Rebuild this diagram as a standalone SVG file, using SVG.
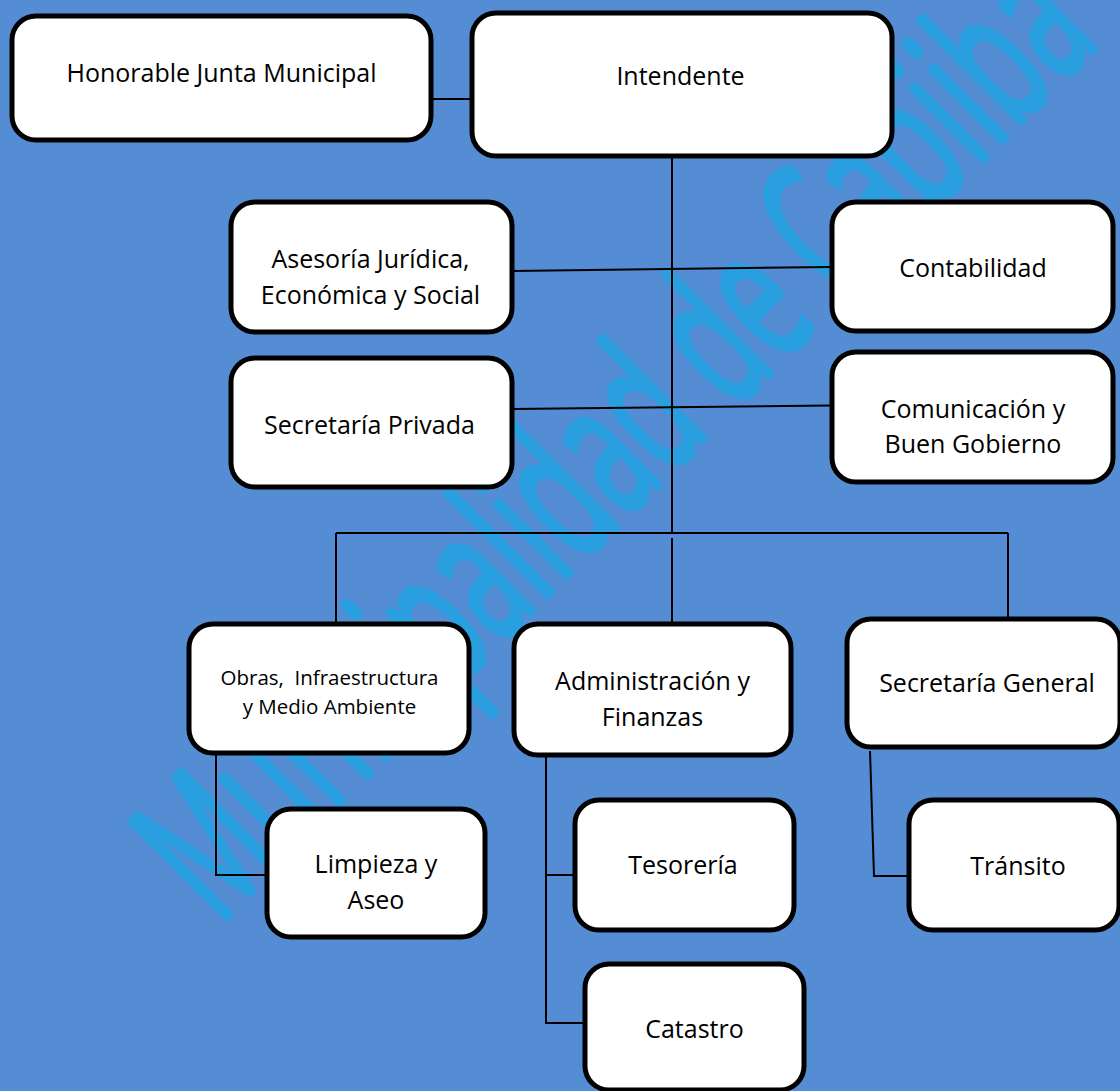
<svg xmlns="http://www.w3.org/2000/svg" width="1120" height="1091" viewBox="0 0 1120 1091">
  <style>
    .box { fill: #ffffff; stroke: #000000; stroke-width: 5; }
    .lbl { font-family: "Open Sans", "Liberation Sans", sans-serif; font-size: 25px; fill: #000000; text-anchor: middle; }
    .sm { font-size: 20.5px; }
    .conn { fill: none; stroke: #000000; stroke-width: 2; }
    .wm { font-family: "Open Sans", "Liberation Sans", sans-serif; font-size: 190px; fill: #2a9fe0; stroke: #2a9fe0; stroke-width: 6; stroke-linejoin: round; }
  </style>
  <rect x="0" y="0" width="1120" height="1091" fill="#548dd4"/>
  <g id="watermark">
    <text class="wm" transform="translate(218,926) rotate(-45)" textLength="1250" lengthAdjust="spacingAndGlyphs">Municipalidad de Capiiba</text>
  </g>
  <g id="connectors">
    <path class="conn" d="M433 99 H470"/>
    <path class="conn" d="M672 158 V533"/>
    <path class="conn" d="M513 271 L831 267"/>
    <path class="conn" d="M513 409 L831 405.5"/>
    <path class="conn" d="M336 533 H1008"/>
    <path class="conn" d="M336 533 V624"/>
    <path class="conn" d="M672 538 V627"/>
    <path class="conn" d="M1008 533 V623"/>
    <path class="conn" d="M216 755 V875 H266"/>
    <path class="conn" d="M546 757 V1023 H584"/>
    <path class="conn" d="M546 875 H574"/>
    <path class="conn" d="M870 751 L874 876 H908"/>
  </g>
  <g id="honorable">
    <rect class="box" x="12" y="16" width="419" height="124" rx="24"/>
    <text class="lbl" x="221.5" y="82">Honorable Junta Municipal</text>
  </g>
  <g id="intendente">
    <rect class="box" x="472" y="13" width="420" height="143" rx="24"/>
    <text class="lbl" x="680.5" y="85">Intendente</text>
  </g>
  <g id="asesoria">
    <rect class="box" x="231" y="202" width="281" height="130" rx="24"/>
    <text class="lbl" x="370.5" y="268">Asesoría Jurídica,</text>
    <text class="lbl" x="370.5" y="304">Económica y Social</text>
  </g>
  <g id="contabilidad">
    <rect class="box" x="832" y="202" width="281" height="129" rx="24"/>
    <text class="lbl" x="973" y="277">Contabilidad</text>
  </g>
  <g id="privada">
    <rect class="box" x="231" y="358" width="281" height="129" rx="24"/>
    <text class="lbl" x="369.5" y="434">Secretaría Privada</text>
  </g>
  <g id="comunicacion">
    <rect class="box" x="832" y="352" width="281" height="130" rx="24"/>
    <text class="lbl" x="973" y="418">Comunicación y</text>
    <text class="lbl" x="973" y="453">Buen Gobierno</text>
  </g>
  <g id="obras">
    <rect class="box" x="189" y="624" width="280" height="129" rx="24"/>
    <text class="lbl sm" x="329.5" y="685" xml:space="preserve">Obras,  Infraestructura</text>
    <text class="lbl sm" x="329.5" y="714">y Medio Ambiente</text>
  </g>
  <g id="administracion">
    <rect class="box" x="514" y="624" width="277" height="131" rx="24"/>
    <text class="lbl" x="652.5" y="690">Administración y</text>
    <text class="lbl" x="652.5" y="726">Finanzas</text>
  </g>
  <g id="secretaria-general">
    <rect class="box" x="847" y="619" width="273" height="128" rx="24"/>
    <text class="lbl" x="987" y="692">Secretaría General</text>
  </g>
  <g id="limpieza">
    <rect class="box" x="267" y="809" width="218" height="128" rx="24"/>
    <text class="lbl" x="376" y="873">Limpieza y</text>
    <text class="lbl" x="376" y="909">Aseo</text>
  </g>
  <g id="tesoreria">
    <rect class="box" x="575" y="800" width="219" height="130" rx="24"/>
    <text class="lbl" x="683" y="874">Tesorería</text>
  </g>
  <g id="transito">
    <rect class="box" x="909" y="800" width="210" height="130" rx="24"/>
    <text class="lbl" x="1018" y="875">Tránsito</text>
  </g>
  <g id="catastro">
    <rect class="box" x="585" y="964" width="219" height="126" rx="24"/>
    <text class="lbl" x="694.5" y="1038">Catastro</text>
  </g>
</svg>
